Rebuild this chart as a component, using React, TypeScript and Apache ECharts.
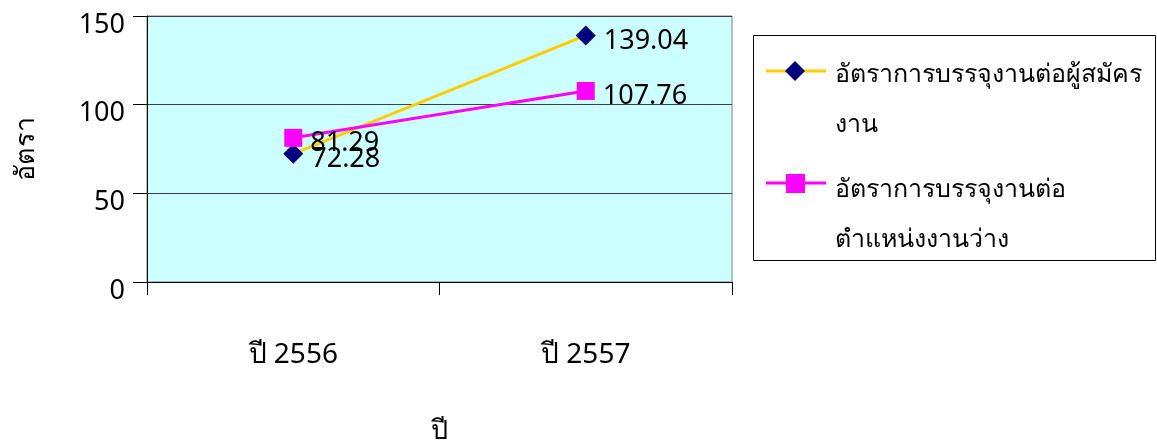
import React, { useEffect, useRef } from "react";
import * as echarts from "echarts";

const categories = ["ปี 2556", "ปี 2557"];
const seriesNames = ["อัตราการบรรจุงานต่อผู้สมัคร\nงาน", "อัตราการบรรจุงานต่อ\nตำแหน่งงานว่าง"];
const applicantRate = [72.28, 139.04];
const vacancyRate = [81.29, 107.76];
const yTicks = { min: 0, max: 150, interval: 50 };

const FONT = "'Noto Sans', sans-serif";

export default function App() {
  const ref = useRef<HTMLDivElement>(null);
  useEffect(() => {
    if (!ref.current) return;
    const chart = echarts.init(ref.current, undefined, { renderer: "svg" });
    const textBase = { fontFamily: FONT, fontSize: 27, color: "#000" };
    chart.setOption({
      animation: false,
      textStyle: { fontFamily: FONT },
      grid: {
        left: 147,
        top: 16,
        right: 425,
        bottom: 164,
        show: true,
        backgroundColor: "#CCFFFF",
        borderColor: "#808080",
        borderWidth: 1,
      },
      xAxis: {
        type: "category",
        data: categories,
        boundaryGap: true,
        name: "ปี",
        nameLocation: "middle",
        nameGap: 133,
        nameTextStyle: { ...textBase },
        axisLine: { lineStyle: { color: "#000", width: 1 } },
        axisTick: { show: true, length: 13, lineStyle: { color: "#000" } },
        axisLabel: { ...textBase, fontSize: 28, margin: 56 },
        splitLine: { show: false },
      },
      yAxis: {
        type: "value",
        min: yTicks.min,
        max: yTicks.max,
        interval: yTicks.interval,
        name: "อัตรา",
        nameLocation: "middle",
        nameGap: 110,
        nameRotate: 90,
        nameTextStyle: { ...textBase },
        axisLine: { show: true, lineStyle: { color: "#000", width: 1 } },
        axisTick: { show: true, length: 14, lineStyle: { color: "#000" } },
        axisLabel: {
          ...textBase,
          margin: 22,
          formatter: (v: number) => `{a|${v}}`,
          rich: { a: { ...textBase, padding: [12, 0, 0, 0] } },
        },
        splitLine: { show: true, lineStyle: { color: "#404040", width: 1 } },
      },
      series: [
        {
          name: seriesNames[0],
          type: "line",
          data: applicantRate,
          symbol: "diamond",
          symbolSize: 20,
          itemStyle: { color: "#000080" },
          lineStyle: { color: "#FFCC00", width: 3 },
          label: {
            show: true,
            position: "right",
            distance: 8,
            offset: [0, 3],
            ...textBase,
          },
          z: 3,
        },
        {
          name: seriesNames[1],
          type: "line",
          data: vacancyRate,
          symbol: "rect",
          symbolSize: 18,
          itemStyle: { color: "#FF00FF" },
          lineStyle: { color: "#FF00FF", width: 3 },
          label: {
            show: true,
            position: "right",
            distance: 8,
            offset: [0, 3],
            ...textBase,
          },
          z: 4,
        },
      ],
      graphic: [
        {
          type: "rect",
          shape: { x: 753.5, y: 35.5, width: 402, height: 225 },
          style: { fill: "#fff", stroke: "#000", lineWidth: 1 },
        },
        {
          type: "line",
          shape: { x1: 766, y1: 71, x2: 826, y2: 71 },
          style: { stroke: "#FFCC00", lineWidth: 3 },
        },
        {
          type: "polygon",
          shape: { points: [[795, 61], [805, 71], [795, 81], [785, 71]] },
          style: { fill: "#000080" },
        },
        {
          type: "text",
          x: 835,
          y: 47,
          style: { text: seriesNames[0], font: `25px ${FONT}`, fill: "#000", lineHeight: 50 },
        },
        {
          type: "line",
          shape: { x1: 766, y1: 183, x2: 826, y2: 183 },
          style: { stroke: "#FF00FF", lineWidth: 3 },
        },
        {
          type: "rect",
          shape: { x: 786, y: 174, width: 19, height: 19 },
          style: { fill: "#FF00FF" },
        },
        {
          type: "text",
          x: 835,
          y: 162,
          style: { text: seriesNames[1], font: `25px ${FONT}`, fill: "#000", lineHeight: 50 },
        },
      ],
    });
    return () => chart.dispose();
  }, []);
  return (
    <div
      ref={ref}
      style={{ position: "fixed", left: 0, top: 0, width: 1157, height: 447 }}
    />
  );
}
